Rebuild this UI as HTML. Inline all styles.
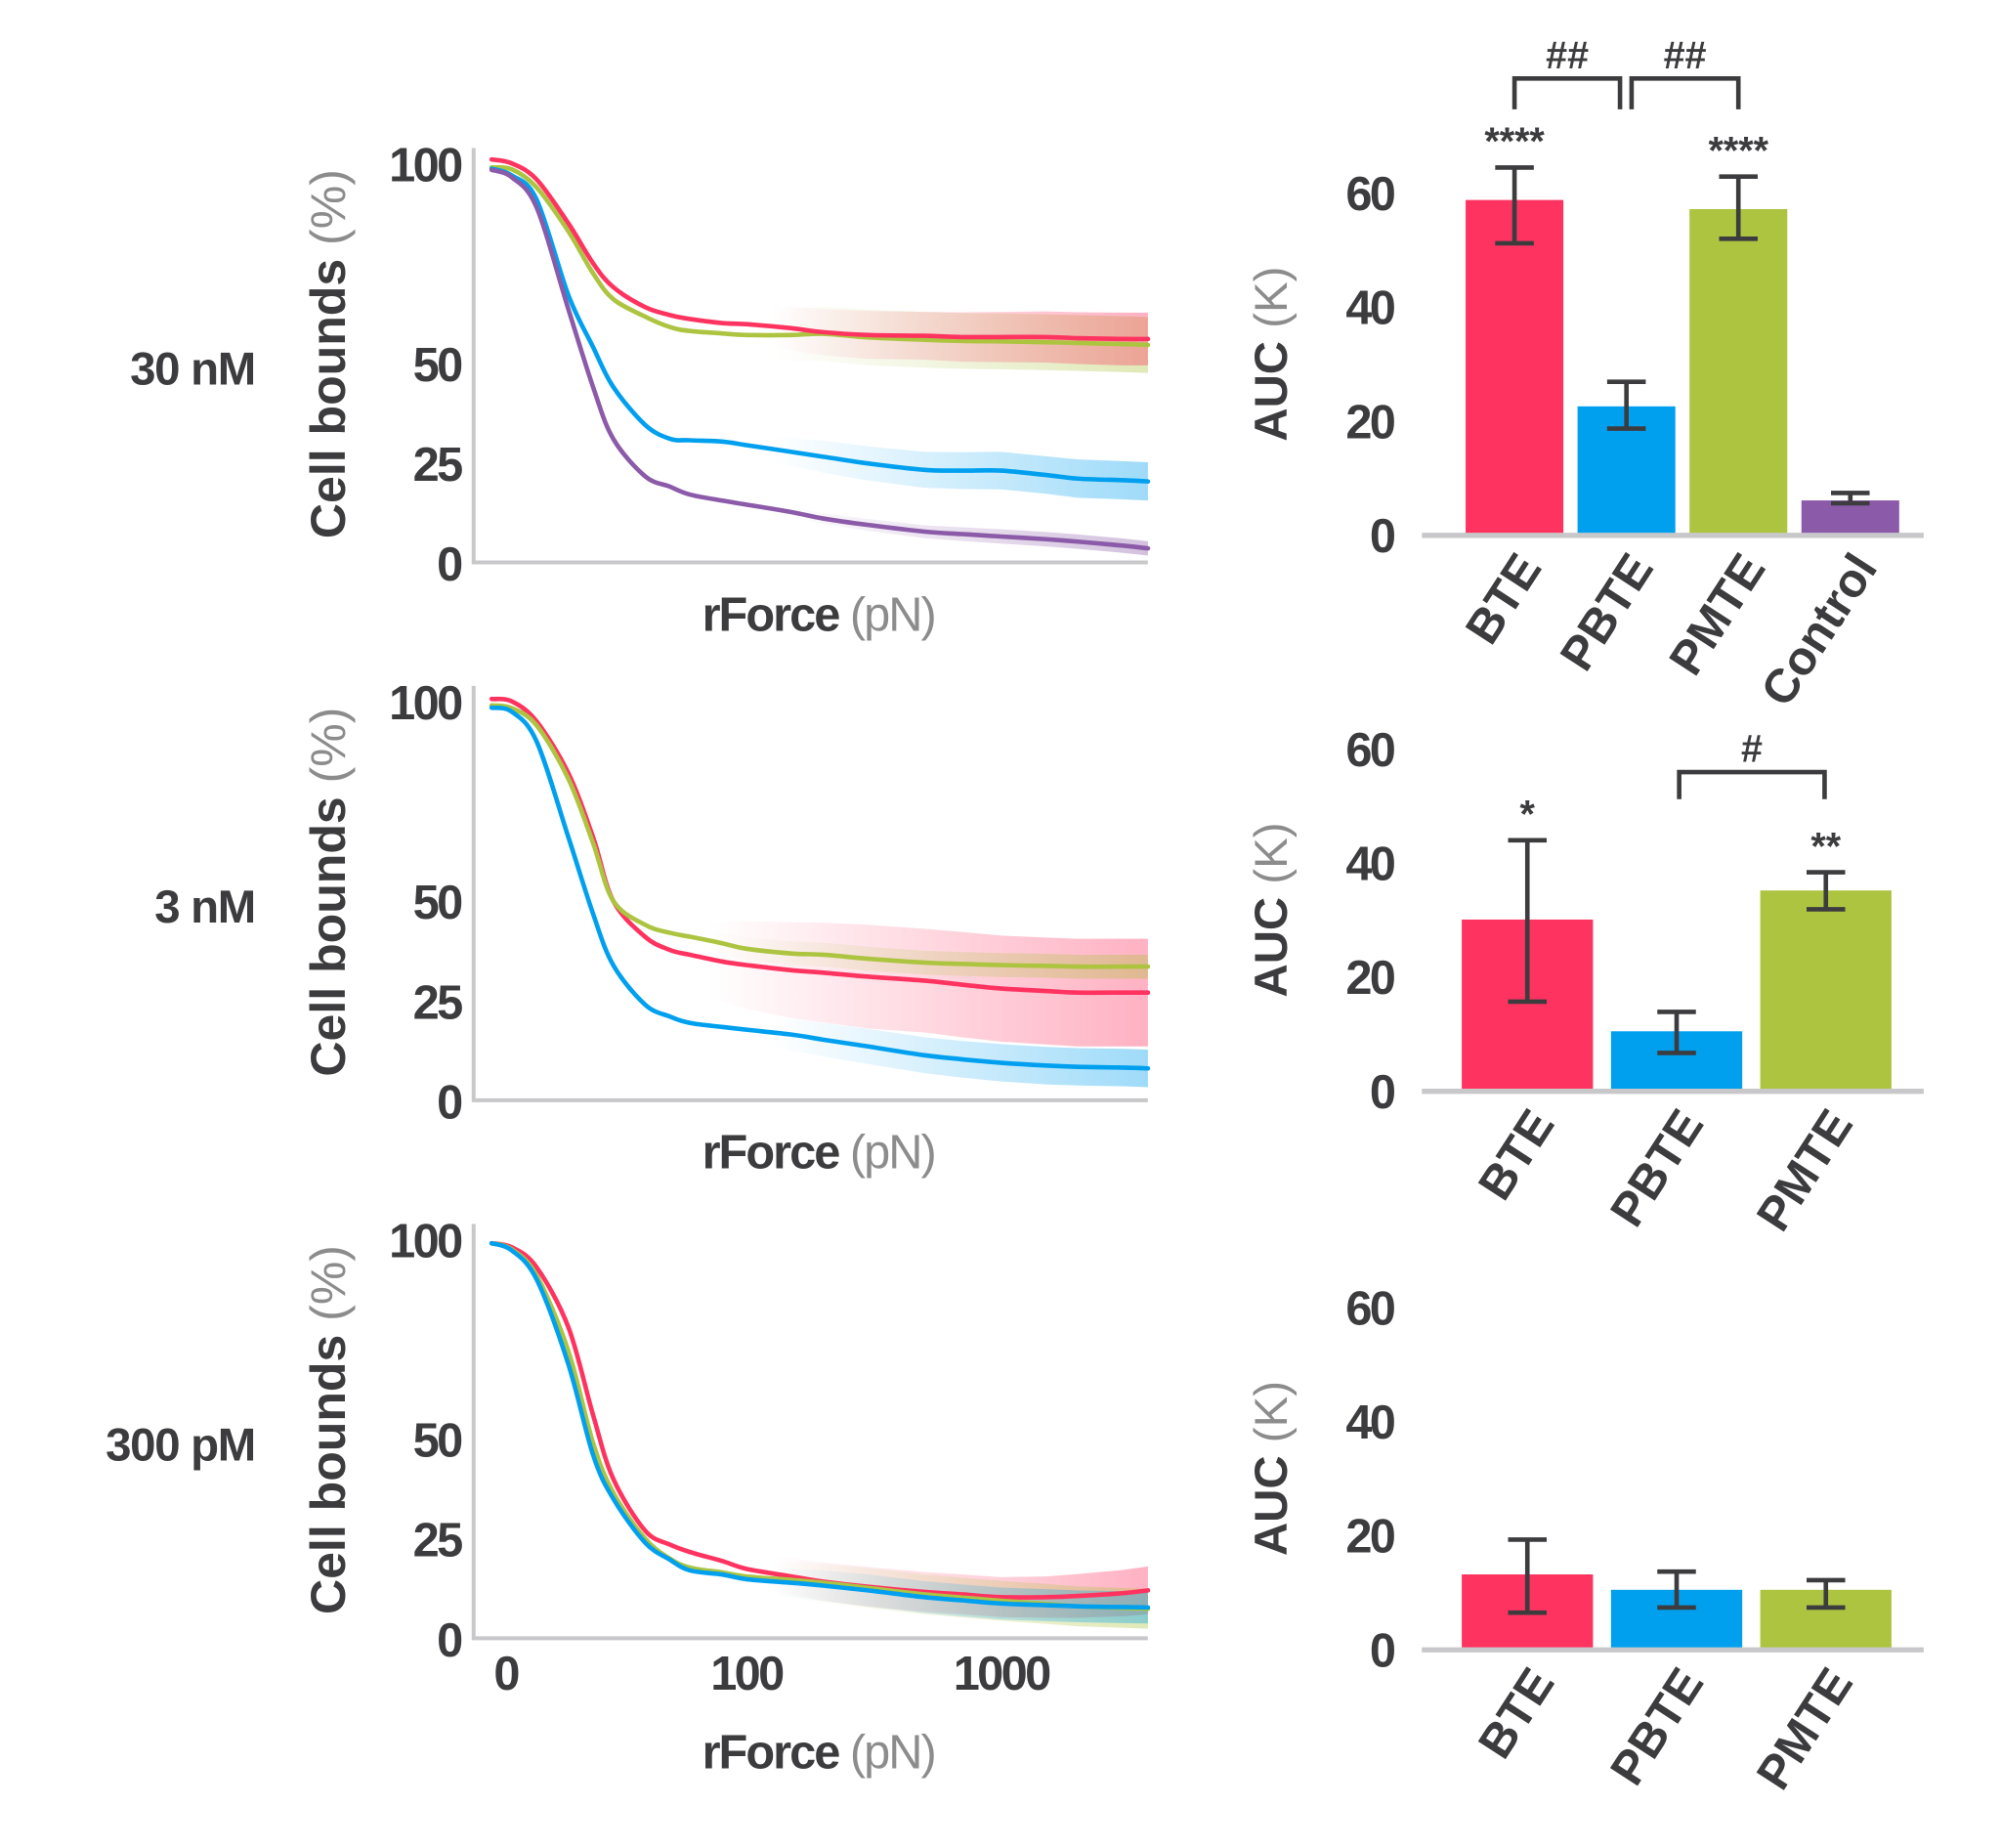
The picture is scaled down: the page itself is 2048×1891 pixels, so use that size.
<!DOCTYPE html>
<html><head><meta charset="utf-8"><style>
html,body{margin:0;padding:0;background:#fff;}
svg{display:block;}
text{font-family:"Liberation Sans",Arial,sans-serif;font-weight:bold;fill:#3c3c3e;}
.num{font-size:37px;letter-spacing:-2px;}
.gray{fill:#8c8c8c;font-weight:normal;}
</style></head><body>
<svg id="fig" width="2048" height="1891" viewBox="0 0 1555 1436" xmlns="http://www.w3.org/2000/svg">
<defs id="defs"></defs>
</svg>
<script>
// ---------- line chart data ----------
const forces = [10,12,15,20,25,30,40,50,60,80,100,150,200,300,500,700,1000,1500,2000,3000,3770];
const xTickLabels = ['0','100','1000'];
const yTickLabels = [0,25,50,100];
const concLabels = ['30 nM','3 nM','300 pM'];
// panel 1 (30 nM)
const p1Red    = [101,100,96,85,75,69,64,62,61,60,59.7,58.7,57.7,57,56.8,56.5,56.5,56.5,56.2,56,56];
const p1Green  = [99,98.5,94,83,72.5,66,61.6,59,58,57.4,57,57,57.3,56.4,55.8,55.5,55.4,55.2,55,54.7,54.5];
const p1Blue   = [98.7,97,91,67,54,44,34.5,31,30.6,30.3,29.4,27.7,26.5,24.8,23.2,23,23,21.9,21,20.6,20.3];
const p1Purple = [98.4,96.5,89,63.5,44,31,21.6,19,17,15.5,14.5,12.6,11,9.4,7.7,7.1,6.5,5.8,5.2,4.2,3.5];
const p1RedErr = [0,0,0,0,0,0,0,0,0,0,5,5.5,5.8,6,6,6.2,6.3,6.4,6.5,6.6,6.6];
const p1GreenErr = [0,0,0,0,0,0,0,0,0,0,6,6.5,6.8,7,7,7,7,7,7,7,7];
const p1BlueErr = [0,0,0,0,0,0,0,0,0,0,3,3.5,4,4.3,4.5,4.6,4.7,4.7,4.8,4.8,4.8];
const p1PurpleErr = [0,0,0,0,0,0,0,0,0,0,1,1.2,1.3,1.5,1.6,1.7,1.8,1.8,1.8,1.8,1.8];
// panel 2 (3 nM)
const p2Red   = [100.6,100,95,82,66,50,41,37.7,36.5,34.8,33.9,32.6,32,31,30,29,28,27.4,27,27,27];
const p2Green = [99,98.3,94,80.6,64.5,50,44,42,41,39.4,38,36.8,36.5,35.5,34.5,34.2,33.9,33.7,33.5,33.5,33.5];
const p2Blue  = [98.4,97.4,90,66,46.8,33.9,24,21,19.4,18.4,17.7,16.5,15.2,13.5,11.3,10.3,9.4,8.7,8.4,8.2,8];
const p2RedErr   = [0,0,0,0,0,0,0,0,8,10,11,12,12.5,13,13,13.2,13.3,13.4,13.5,13.5,13.5];
const p2GreenErr = [0,0,0,0,0,0,0,0,2,2.5,2.8,3,3,3,3,3,3,3,3,3,3];
const p2BlueErr  = [0,0,0,0,0,0,0,0,3,3.5,3.8,4,4.2,4.4,4.5,4.6,4.7,4.7,4.7,4.7,4.7];
// panel 3 (300 pM)
const p3Red   = [99,98,93,78,56,40,27,23.5,21.6,19.4,17.4,15.5,14.2,12.9,11.6,11,10.3,10.3,10.6,11.3,12];
const p3Green = [99,97.5,91,72,49,36.5,25,20,17.7,16.5,15.5,14.6,13.9,12.6,11,10.2,9.4,8.6,8,7.6,7.4];
const p3Blue  = [99,97.2,90,68.7,46,35,24,19.7,17,16,14.8,13.9,13.2,12,10.3,9.5,8.7,8.3,8,7.8,7.7];
const p3RedErr   = [0,0,0,0,0,0,0,0,0,0,4,4.5,4.8,5,5,5,5,5.2,5.5,5.8,6];
const p3GreenErr = [0,0,0,0,0,0,0,0,0,0,4,4.5,4.8,5,5,5,5,5,5,5,5];
const p3BlueErr  = [0,0,0,0,0,0,0,0,0,0,3,3.5,3.8,4,4,4,4,4,4,4,4];
// ---------- bar chart data ----------
const bar1Cats = ['BTE','PBTE','PMTE','Control'];
const bar1Vals = [58.6,22.4,57,5.9];
const bar1Lo   = [51,18.5,51.8,5.4];
const bar1Hi   = [64.3,26.7,62.7,7.2];
const bar1Stars= ['****','','****',''];
const bar2Cats = ['BTE','PBTE','PMTE'];
const bar2Vals = [29.9,10.3,35];
const bar2Lo   = [15.5,6.5,31.7];
const bar2Hi   = [43.8,13.7,38.2];
const bar2Stars= ['*','','**'];
const bar3Cats = ['BTE','PBTE','PMTE'];
const bar3Vals = [13,10.3,10.3];
const bar3Lo   = [6.3,7.2,7.2];
const bar3Hi   = [19.1,13.5,12];
const barTicks = [0,20,40,60];

const NS='http://www.w3.org/2000/svg';
const svg=document.getElementById('fig');
const defs=document.getElementById('defs');
const COL={red:'#ff3360',green:'#adc441',blue:'#00a0ef',purple:'#8b5aa8'};
function mk(tag,attrs,parent){const e=document.createElementNS(NS,tag);for(const k in attrs)e.setAttribute(k,attrs[k]);(parent||svg).appendChild(e);return e;}
function xPos(f){return 580+198*Math.log10(f/100);}

function linePanel(idx,off,series,titleY){
  const g=mk('g',{});
  
  
  const base=437+off, yS=v=>base-v*3.1;
  series.forEach((s,si)=>{
    const gid='grad'+idx+'_'+si;
    const lg=mk('linearGradient',{id:gid,gradientUnits:'userSpaceOnUse',x1:s.bandStart,y1:0,x2:892,y2:0},defs);
    mk('stop',{offset:'0','stop-color':s.c,'stop-opacity':'0'},lg);
    mk('stop',{offset:'1','stop-color':s.c,'stop-opacity':'0.38'},lg);
    let top=[],bot=[];
    forces.forEach((f,i)=>{top.push(xPos(f).toFixed(1)+','+yS(s.v[i]+s.e[i]).toFixed(1));bot.unshift(xPos(f).toFixed(1)+','+yS(s.v[i]-s.e[i]).toFixed(1));});
    const b=mk('polygon',{points:top.concat(bot).join(' '),fill:'url(#'+gid+')'},g);
    
    
  });
  series.forEach(s=>{
    const pts=forces.map((f,i)=>[xPos(f),yS(s.v[i])]);
    let d='M'+pts[0][0]+','+pts[0][1];
    for(let i=0;i<pts.length-1;i++){
      const p0=pts[Math.max(0,i-1)],p1=pts[i],p2=pts[i+1],p3=pts[Math.min(pts.length-1,i+2)];
      const c1x=p1[0]+(p2[0]-p0[0])/6,c1y=p1[1]+(p2[1]-p0[1])/6,c2x=p2[0]-(p3[0]-p1[0])/6,c2y=p2[1]-(p3[1]-p1[1])/6;
      d+=' C'+c1x.toFixed(1)+','+c1y.toFixed(1)+' '+c2x.toFixed(1)+','+c2y.toFixed(1)+' '+p2[0].toFixed(1)+','+p2[1].toFixed(1);
    }
    const p=mk('path',{d:d,fill:'none',stroke:s.c,'stroke-width':3.5,'stroke-linecap':'round'},g);
    
    
  });
  const ax=mk('path',{d:'M368,'+(115+off)+' V'+base+' H892',fill:'none',stroke:'#c8c8ca','stroke-width':3},g);
  
  
  yTickLabels.forEach(v=>{
    const t=mk('text',{x:358,y:yS(v)+14,'text-anchor':'end',class:'num'},g);
    t.textContent=v;
    
    
  });
  const yt=mk('text',{transform:'translate(268,'+(275+off)+') rotate(-90)','text-anchor':'middle','font-size':38},g);
  yt.innerHTML='Cell bounds <tspan class="gray">(%)</tspan>';
  
  
  const xt=mk('text',{x:636,y:titleY,'text-anchor':'middle','font-size':37,'letter-spacing':'-1.5'},g);
  xt.innerHTML='rForce <tspan class="gray">(pN)</tspan>';
  
  
  const cl=mk('text',{x:198,y:299+off,'text-anchor':'end','font-size':36,'letter-spacing':'-1'},g);
  cl.textContent=concLabels[idx];
  
  
}
linePanel(0,0,[
 {n:'pmte',c:COL.green,v:p1Green,e:p1GreenErr,bandStart:600},
 {n:'bte',c:COL.red,v:p1Red,e:p1RedErr,bandStart:600},
 {n:'pbte',c:COL.blue,v:p1Blue,e:p1BlueErr,bandStart:600},
 {n:'control',c:COL.purple,v:p1Purple,e:p1PurpleErr,bandStart:600}],490);
linePanel(1,418,[
 {n:'bte',c:COL.red,v:p2Red,e:p2RedErr,bandStart:550},
 {n:'pmte',c:COL.green,v:p2Green,e:p2GreenErr,bandStart:550},
 {n:'pbte',c:COL.blue,v:p2Blue,e:p2BlueErr,bandStart:600}],908);
linePanel(2,836,[
 {n:'bte',c:COL.red,v:p3Red,e:p3RedErr,bandStart:600},
 {n:'pmte',c:COL.green,v:p3Green,e:p3GreenErr,bandStart:600},
 {n:'pbte',c:COL.blue,v:p3Blue,e:p3BlueErr,bandStart:600}],1374);
[0,100,1000].forEach((f,i)=>{
  const x=f===0?393:xPos(f);
  const t=mk('text',{x:x,y:1313,'text-anchor':'middle',class:'num'});
  t.textContent=xTickLabels[i];
  
  
});

function barPanel(idx,base,cats,vals,lo,hi,stars,x0,bw,gap,cols){
  const g=mk('g',{});
  
  
  const yS=v=>base-v*4.43;
  barTicks.forEach(v=>{
    const t=mk('text',{x:1083,y:yS(v)+14,'text-anchor':'end',class:'num'},g);
    t.textContent=v;
    
    
  });
  const at=mk('text',{transform:'translate(1000,'+(base-140)+') rotate(-90)','text-anchor':'middle','font-size':36},g);
  at.innerHTML='AUC <tspan class="gray">(K)</tspan>';
  
  
  cats.forEach((c,i)=>{
    const x=x0+i*(bw+gap), cx=x+bw/2;
    const r=mk('rect',{x:x,y:yS(vals[i]),width:bw,height:base-yS(vals[i]),fill:cols[i]},g);
    
    
    const eb=mk('path',{d:'M'+(cx-15)+','+yS(hi[i])+' H'+(cx+15)+' M'+cx+','+yS(hi[i])+' V'+yS(lo[i])+' M'+(cx-15)+','+yS(lo[i])+' H'+(cx+15),stroke:'#3c3c3e','stroke-width':3.5,fill:'none'},g);
    
    
    if(stars[i]){
      const s=mk('text',{x:cx,y:yS(hi[i])-10,'text-anchor':'middle','font-size':30},g);
      s.textContent=stars[i];
      
      
    }
    const l=mk('text',{transform:'translate('+(cx+22)+','+(base+26)+') rotate(-57)','text-anchor':'end','font-size':37},g);
    l.textContent=c;
    
    
  });
  const bl=mk('line',{x1:1105,y1:base+1,x2:1495,y2:base+1,stroke:'#c8c8ca','stroke-width':4},g);
  
  
}
barPanel(0,415,bar1Cats,bar1Vals,bar1Lo,bar1Hi,bar1Stars,1139,76,11,[COL.red,COL.blue,COL.green,COL.purple]);
barPanel(1,847,bar2Cats,bar2Vals,bar2Lo,bar2Hi,bar2Stars,1136,102,14,[COL.red,COL.blue,COL.green]);
barPanel(2,1281,bar3Cats,bar3Vals,bar3Lo,bar3Hi,['','',''],1136,102,14,[COL.red,COL.blue,COL.green]);

function bracket(x1,x2,top,bottom,label){
  const p=mk('path',{d:'M'+x1+','+bottom+' V'+top+' H'+x2+' V'+bottom,fill:'none',stroke:'#3c3c3e','stroke-width':3.5});
  
  
  const t=mk('text',{x:(x1+x2)/2,y:top-8,'text-anchor':'middle','font-size':30,'font-weight':'normal'});
  t.textContent=label;
  
  
}
bracket(1177,1259,61,85,'##');
bracket(1268,1351,61,85,'##');
bracket(1305,1418,600,621,'#');
</script>
</body></html>
